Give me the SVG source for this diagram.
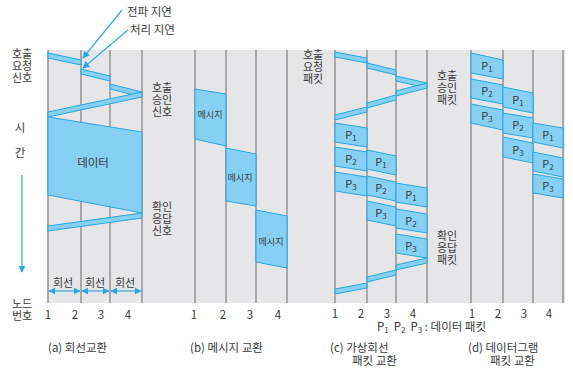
<svg xmlns="http://www.w3.org/2000/svg" width="573" height="369" viewBox="0 0 573 369">
<defs>
<style>
text{font-family:"Noto Sans CJK KR","Noto Sans",sans-serif;fill:#3a3a3a;font-size:11.5px}
.m{text-anchor:middle}
.t{font-size:11px}
.s{font-size:9px}
.p{font-size:11px;text-anchor:middle}
.sub{font-size:8px}
.nl{stroke:#a8a8a8;stroke-width:2;fill:none}
.b{fill:#86d0f3;stroke:#27a6e0;stroke-width:1}
.ar{stroke:#35abe0;stroke-width:1.2;fill:none}
</style>
<marker id="ah" viewBox="0 0 10 10" refX="9" refY="5" markerWidth="6" markerHeight="6" orient="auto-start-reverse">
<path d="M0,0 L10,5 L0,10 z" fill="#27a6e0"/>
</marker>
</defs>
<rect x="47" y="50" width="518" height="253" fill="#e6e6e8"/>
<g id="node-lines">
<path class="nl" d="M48,50V303M81,50V303M110,50V303M142,50V303M195,50V303M226,50V303M256,50V303M287,50V303M335,50V303M367,50V303M396,50V303M427,50V303M471,50V303M503,50V303M533,50V303M563,50V303"/>
</g>
<g id="a-circuit">
<polygon class="b" points="48,53 81,60 81,65 48,58"/>
<polygon class="b" points="81,69 110,76 110,81 81,74"/>
<polygon class="b" points="110,84 142,92 142,97 110,89"/>
<polygon class="b" points="142,92 48,112 48,117 142,97"/>
<polygon class="b" points="48,117 142,132 142,213 48,195"/>
<polygon class="b" points="142,213 48,226 48,231 142,218"/>
<text class="m" x="93" y="167" font-size="10">데이터</text>
</g>
<g id="b-message">
<polygon class="b" points="195,89 226,94 226,146 195,139"/>
<polygon class="b" points="226,148 256,154 256,206 226,201"/>
<polygon class="b" points="256,210 287,216 287,268 256,262"/>
<text class="m s" x="210" y="118">메시지</text>
<text class="m s" x="240" y="181">메시지</text>
<text class="m s" x="271" y="245">메시지</text>
</g>
<g id="c-virtual">
<polygon class="b" points="335,52 367,58 367,63 335,57"/>
<polygon class="b" points="367,63 396,70 396,75 367,68"/>
<polygon class="b" points="396,76 427,83 427,88 396,81"/>
<polygon class="b" points="427,83 396,91 396,96 427,88"/>
<polygon class="b" points="396,95 367,103 367,108 396,100"/>
<polygon class="b" points="367,107 335,115 335,120 367,112"/>
<polygon class="b" points="335,123 367,128 367,147 335,142"/>
<polygon class="b" points="335,147 367,152 367,171 335,166"/>
<polygon class="b" points="335,172 367,177 367,196 335,191"/>
<polygon class="b" points="367,150 396,156 396,175 367,169"/>
<polygon class="b" points="367,176 396,182 396,201 367,195"/>
<polygon class="b" points="367,201 396,207 396,226 367,220"/>
<polygon class="b" points="396,183 427,188 427,207 396,202"/>
<polygon class="b" points="396,209 427,214 427,233 396,228"/>
<polygon class="b" points="396,234 427,239 427,258 396,253"/>
<polygon class="b" points="427,258 396,265 396,270 427,263"/>
<polygon class="b" points="396,270 367,277 367,282 396,275"/>
<polygon class="b" points="367,283 335,289 335,294 367,288"/>
<text class="p" x="351" y="139">P<tspan class="sub" dy="2">1</tspan></text>
<text class="p" x="351" y="163">P<tspan class="sub" dy="2">2</tspan></text>
<text class="p" x="351" y="188">P<tspan class="sub" dy="2">3</tspan></text>
<text class="p" x="381" y="166">P<tspan class="sub" dy="2">1</tspan></text>
<text class="p" x="381" y="192">P<tspan class="sub" dy="2">2</tspan></text>
<text class="p" x="381" y="217">P<tspan class="sub" dy="2">3</tspan></text>
<text class="p" x="411" y="199">P<tspan class="sub" dy="2">1</tspan></text>
<text class="p" x="411" y="225">P<tspan class="sub" dy="2">2</tspan></text>
<text class="p" x="411" y="250">P<tspan class="sub" dy="2">3</tspan></text>
</g>
<g id="d-datagram">
<polygon class="b" points="471,53 503,60 503,79 471,73"/>
<polygon class="b" points="471,79 503,85 503,104 471,98"/>
<polygon class="b" points="471,104 503,110 503,130 471,123"/>
<polygon class="b" points="503,87 533,93 533,113 503,107"/>
<polygon class="b" points="503,113 533,118 533,138 503,133"/>
<polygon class="b" points="503,137 533,143 533,163 503,157"/>
<polygon class="b" points="533,123 563,128 563,148 533,142"/>
<polygon class="b" points="533,152 563,158 563,177 533,171"/>
<polygon class="b" points="533,174 563,179 563,198 533,193"/>
<text class="p" x="487" y="70">P<tspan class="sub" dy="2">1</tspan></text>
<text class="p" x="487" y="95">P<tspan class="sub" dy="2">2</tspan></text>
<text class="p" x="487" y="120">P<tspan class="sub" dy="2">3</tspan></text>
<text class="p" x="518" y="104">P<tspan class="sub" dy="2">1</tspan></text>
<text class="p" x="518" y="129">P<tspan class="sub" dy="2">2</tspan></text>
<text class="p" x="518" y="154">P<tspan class="sub" dy="2">3</tspan></text>
<text class="p" x="548" y="139">P<tspan class="sub" dy="2">1</tspan></text>
<text class="p" x="548" y="168">P<tspan class="sub" dy="2">2</tspan></text>
<text class="p" x="548" y="190">P<tspan class="sub" dy="2">3</tspan></text>
</g>
<g id="connectors">
<line class="ar" x1="122" y1="10" x2="83" y2="58" marker-end="url(#ah)"/>
<line class="ar" x1="128" y1="30" x2="83" y2="68" marker-end="url(#ah)"/>
<line class="ar" x1="22" y1="175" x2="22" y2="272" marker-end="url(#ah)"/>
<line class="ar" x1="49" y1="291" x2="80" y2="291" marker-start="url(#ah)" marker-end="url(#ah)"/>
<line class="ar" x1="82" y1="291" x2="109" y2="291" marker-start="url(#ah)" marker-end="url(#ah)"/>
<line class="ar" x1="111" y1="291" x2="141" y2="291" marker-start="url(#ah)" marker-end="url(#ah)"/>
</g>
<g id="labels">
<text x="127" y="16">전파 지연</text>
<text x="130" y="34">처리 지연</text>
<text class="m t" x="22" y="58">호출<tspan x="22" dy="12">요청</tspan><tspan x="22" dy="12">신호</tspan></text>
<text class="m t" x="162" y="92">호출<tspan x="162" dy="12">승인</tspan><tspan x="162" dy="12">신호</tspan></text>
<text class="m" x="20" y="132">시</text>
<text class="m" x="20" y="157">간</text>
<text class="m t" x="162" y="211">확인<tspan x="162" dy="12">응답</tspan><tspan x="162" dy="12">신호</tspan></text>
<text class="m t" x="63" y="287">회선</text>
<text class="m t" x="95" y="287">회선</text>
<text class="m t" x="125" y="287">회선</text>
<text class="m t" x="22" y="308">노드<tspan x="22" dy="12">번호</tspan></text>
<text class="m" x="48" y="319">1</text>
<text class="m" x="75" y="319">2</text>
<text class="m" x="101" y="319">3</text>
<text class="m" x="128" y="319">4</text>
<text class="m" x="194" y="319">1</text>
<text class="m" x="223" y="319">2</text>
<text class="m" x="250" y="319">3</text>
<text class="m" x="278" y="319">4</text>
<text class="m" x="335" y="318">1</text>
<text class="m" x="361" y="318">2</text>
<text class="m" x="387" y="318">3</text>
<text class="m" x="413" y="318">4</text>
<text class="m" x="472" y="318">1</text>
<text class="m" x="498" y="318">2</text>
<text class="m" x="524" y="318">3</text>
<text class="m" x="549" y="318">4</text>
<text class="m t" x="313" y="59">호출<tspan x="313" dy="12">요청</tspan><tspan x="313" dy="12">패킷</tspan></text>
<text class="m t" x="447" y="80">호출<tspan x="447" dy="12">승인</tspan><tspan x="447" dy="12">패킷</tspan></text>
<text class="m t" x="447" y="240">확인<tspan x="447" dy="12">응답</tspan><tspan x="447" dy="12">패킷</tspan></text>
<text x="377" y="331">P<tspan class="sub" dy="2">1</tspan><tspan dy="-2" dx="5">P</tspan><tspan class="sub" dy="2">2</tspan><tspan dy="-2" dx="5">P</tspan><tspan class="sub" dy="2">3</tspan><tspan dy="-2"> : 데이터 패킷</tspan></text>
<text x="48" y="352">(a) 회선교환</text>
<text x="190" y="352">(b) 메시지 교환</text>
<text x="330" y="352">(c) 가상회선<tspan x="352" dy="13">패킷 교환</tspan></text>
<text x="468" y="352">(d) 데이터그램<tspan x="490" dy="13">패킷 교환</tspan></text>
</g>
</svg>
